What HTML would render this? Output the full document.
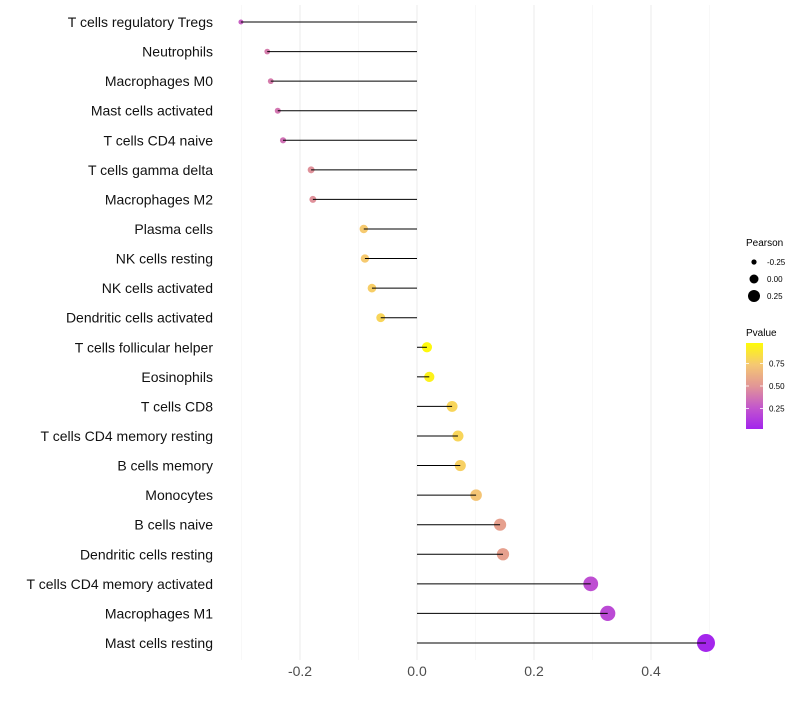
<!DOCTYPE html>
<html><head><meta charset="utf-8"><style>
body{margin:0;background:#fff;}
svg text{font-family:"Liberation Sans",sans-serif;}
</style></head><body>
<svg id="chart" width="800" height="700"></svg>
<script>
const categories=["T cells regulatory  Tregs","Neutrophils","Macrophages M0","Mast cells activated","T cells CD4 naive","T cells gamma delta","Macrophages M2","Plasma cells","NK cells resting","NK cells activated","Dendritic cells activated","T cells follicular helper","Eosinophils","T cells CD8","T cells CD4 memory resting","B cells memory","Monocytes","B cells naive","Dendritic cells resting","T cells CD4 memory activated","Macrophages M1","Mast cells resting"];
const pearson=[-0.301,-0.256,-0.250,-0.238,-0.229,-0.181,-0.178,-0.091,-0.089,-0.077,-0.062,0.017,0.021,0.060,0.070,0.074,0.101,0.142,0.147,0.297,0.326,0.494];
const pvalues=[0.3,0.4,0.4,0.38,0.36,0.48,0.48,0.75,0.75,0.77,0.8,0.97,0.94,0.8,0.8,0.78,0.72,0.55,0.55,0.22,0.2,0.03];
const xTicks=[-0.2,0,0.2,0.4];
const xTickLabels=["-0.2","0.0","0.2","0.4"];
const minorTicks=[-0.3,-0.1,0.1,0.3,0.5];
const sizeLegend=[-0.25,0,0.25];
const sizeLegendLabels=["-0.25","0.00","0.25"];
const pTicks=[0.25,0.5,0.75];
const pTickLabels=["0.25","0.50","0.75"];

const svg=document.getElementById('chart');
const NS="http://www.w3.org/2000/svg";
function mk(t,a,p){const e=document.createElementNS(NS,t);for(const k in a)e.setAttribute(k,a[k]);(p||svg).appendChild(e);return e;}
const x=v=>417+v*585;
const y=i=>22+i*29.57;
const r=v=>Math.max(1.5,2.9+(v+0.25)*8.2);
const stops=[[160,32,240],[194,84,206],[226,150,150],[246,202,112],[255,255,0]];
function col(p){const t=Math.min(1,Math.max(0,p))*4;const i=Math.min(3,Math.floor(t));const f=t-i;
 const c=stops[i].map((v,k)=>Math.round(v+(stops[i+1][k]-v)*f));return `rgb(${c})`;}

minorTicks.forEach(v=>{const g=mk('line',{x1:x(v),x2:x(v),y1:5,y2:660,stroke:'#f3f3f3','stroke-width':0.6});

});
xTicks.forEach((v,i)=>{const g=mk('line',{x1:x(v),x2:x(v),y1:5,y2:660,stroke:'#ebebeb','stroke-width':1});


const t=mk('text',{x:x(v),y:676,'text-anchor':'middle','font-size':14,fill:'#4d4d4d'});t.textContent=xTickLabels[i];

});

categories.forEach((c,i)=>{
 const t=mk('text',{x:213,y:y(i)+5,'text-anchor':'end','font-size':14,fill:'#111'});t.textContent=c;
 
 
 const d=mk('circle',{cx:x(pearson[i]),cy:y(i),r:r(pearson[i]),fill:col(pvalues[i])});
 
 
 const l=mk('line',{x1:x(0),x2:x(pearson[i]),y1:y(i),y2:y(i),stroke:'#000','stroke-width':1});
 
 
});

const lt=mk('text',{x:746,y:246,'font-size':10,fill:'#000'});lt.textContent='Pearson';


const legR=[2.6,4.5,6];
sizeLegend.forEach((v,i)=>{const cy=262+i*17;
 const c=mk('circle',{cx:754,cy:cy,r:legR[i],fill:'#000'});
 
 
 const t=mk('text',{x:767,y:cy+3,'font-size':8,fill:'#000'});t.textContent=sizeLegendLabels[i];
 
 });

const pt=mk('text',{x:746,y:336,'font-size':10,fill:'#000'});pt.textContent='Pvalue';


const defs=mk('defs',{});const gr=mk('linearGradient',{id:'pg',x1:0,y1:1,x2:0,y2:0},defs);
[0,0.25,0.5,0.75,1].forEach(s=>mk('stop',{offset:s,'stop-color':col(0.02+s*0.96)},gr));
const by0=343,by1=429;
const bar=mk('rect',{x:746,y:by0,width:17,height:by1-by0,fill:'url(#pg)'});


const py=p=>by1-(p-0.02)/(0.96)*(by1-by0);
pTicks.forEach((p,i)=>{
 mk('line',{x1:746,x2:749,y1:py(p),y2:py(p),stroke:'#fff','stroke-width':0.8});
 mk('line',{x1:760,x2:763,y1:py(p),y2:py(p),stroke:'#fff','stroke-width':0.8});
 const t=mk('text',{x:769,y:py(p)+3,'font-size':8,fill:'#000'});t.textContent=pTickLabels[i];
 
 });
</script>
</body></html>
